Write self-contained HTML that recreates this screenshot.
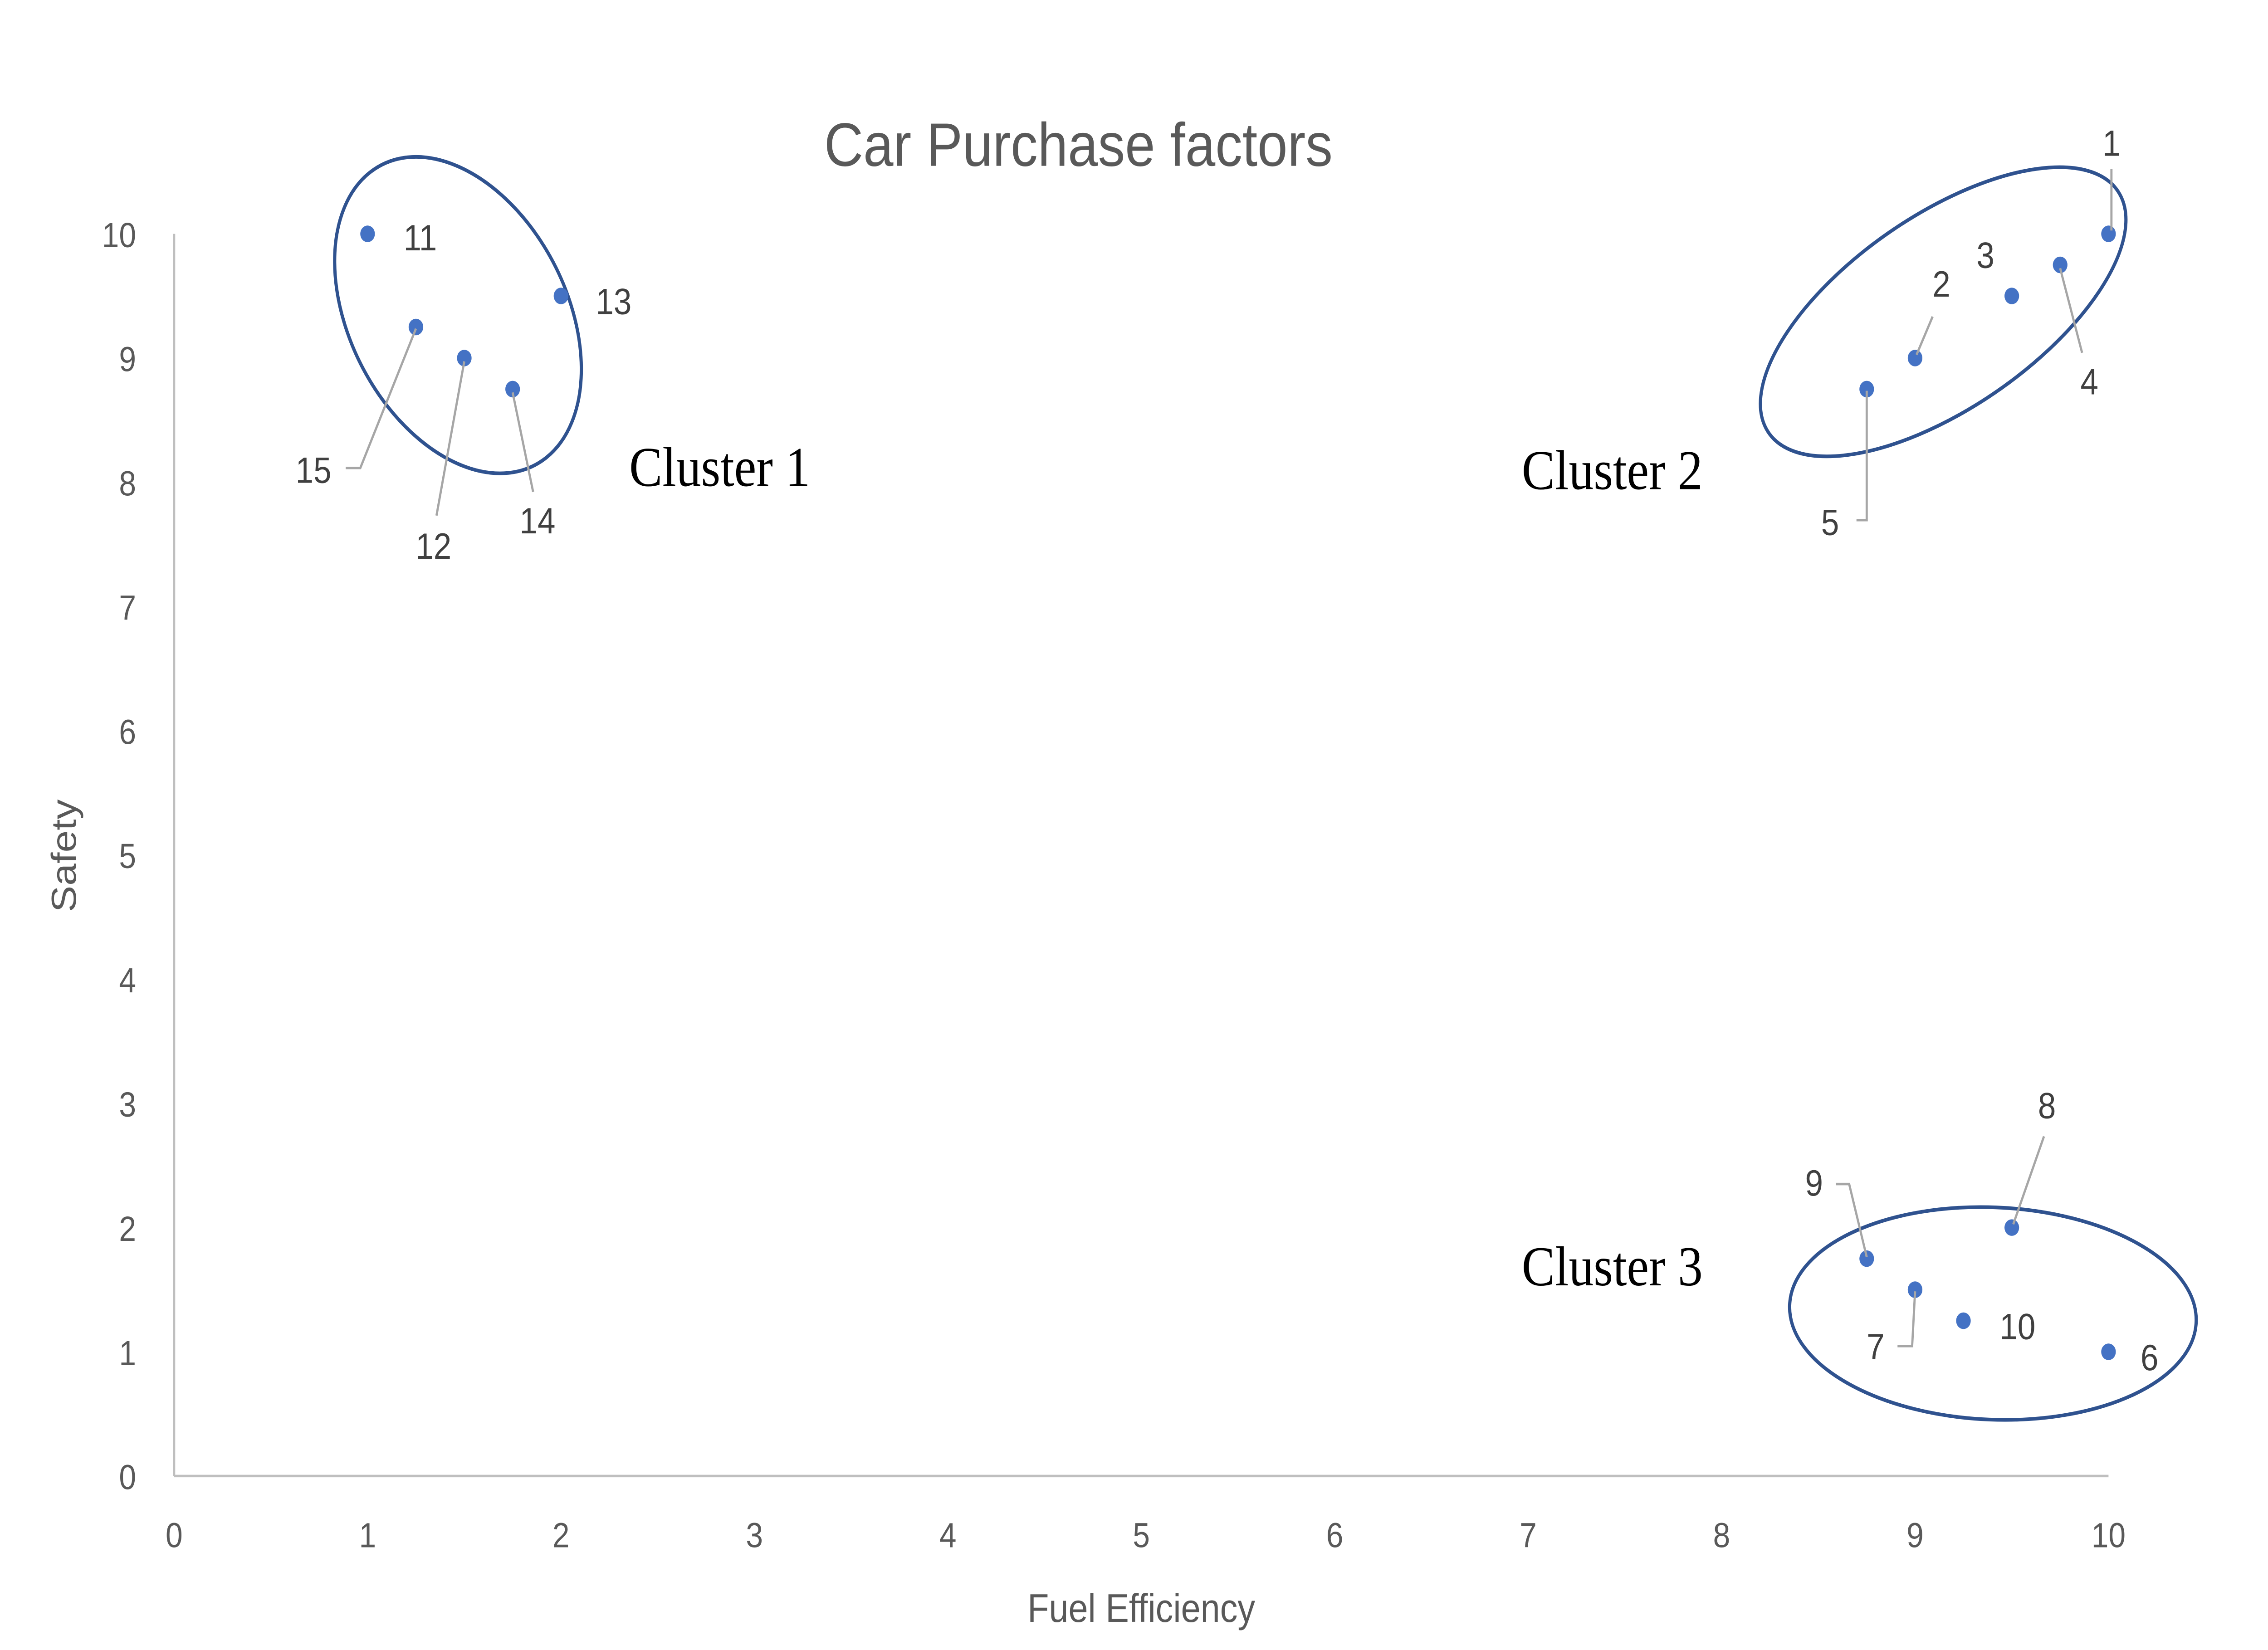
<!DOCTYPE html>
<html><head><meta charset="utf-8"><style>
html,body{margin:0;padding:0;background:#fff;width:100%;height:100%;overflow:hidden;}
svg{display:block;width:100vw;height:100vh;}
text{font-family:"Liberation Sans",sans-serif;}
</style></head><body>
<svg id="chart" viewBox="0 0 1550 994.9" preserveAspectRatio="none" xmlns="http://www.w3.org/2000/svg">
<rect width="1550" height="994.9" fill="#fff"/>
<text x="737" y="100" text-anchor="middle" font-size="37" fill="#595959">Car Purchase factors</text>
<g id="axes"></g>
<g id="ellipses"></g>
<g id="marks"></g>
<text x="780" y="978" text-anchor="middle" font-size="24" fill="#595959">Fuel Efficiency</text>
<text transform="translate(52,516) rotate(-90)" text-anchor="middle" font-size="24" fill="#595959">Safety</text>
<text x="430" y="293" font-size="34" fill="#000" style="font-family:'Liberation Serif',serif">Cluster 1</text>
<text x="1040" y="295" font-size="34" fill="#000" style="font-family:'Liberation Serif',serif">Cluster 2</text>
<text x="1040" y="775" font-size="34" fill="#000" style="font-family:'Liberation Serif',serif">Cluster 3</text>
</svg>
<script>
const xTicks = [0,1,2,3,4,5,6,7,8,9,10];
const yTicks = [0,1,2,3,4,5,6,7,8,9,10];
const pointIds = [1,2,3,4,5,6,7,8,9,10,11,12,13,14,15];
const fuelValues = [10,9,9.5,9.75,8.75,10,9,9.5,8.75,9.25,1,1.5,2,1.75,1.25];
const safetyValues = [10,9,9.5,9.75,8.75,1,1.5,2,1.75,1.25,10,9,9.5,8.75,9.25];

const NS = "http://www.w3.org/2000/svg";
const X0=119, X1=1441, Y0=890, Y1=141;
function sx(v){return X0+(X1-X0)*v/10;}
function sy(v){return Y0-(Y0-Y1)*v/10;}
function mk(tag,attrs,parent){const e=document.createElementNS(NS,tag);for(const k in attrs)e.setAttribute(k,attrs[k]);parent.appendChild(e);return e;}
const axes=document.getElementById('axes');
let l=mk('line',{x1:X0,y1:Y0,x2:X1,y2:Y0,stroke:'#bfbfbf','stroke-width':1.5},axes);


l=mk('line',{x1:X0,y1:Y0,x2:X0,y2:Y1,stroke:'#bfbfbf','stroke-width':1.5},axes);


xTicks.forEach(t=>{const e=mk('text',{x:sx(t),y:Y0+43,'text-anchor':'middle','font-size':21,fill:'#595959'},axes);e.textContent=t;

});
yTicks.forEach(t=>{const e=mk('text',{x:X0-26,y:sy(t)+8,'text-anchor':'end','font-size':21,fill:'#595959'},axes);e.textContent=t;

});

const ell=document.getElementById('ellipses');
[[313,190,105,72,55],[1328,188,140,60,-30],[1362,792,139,64,2]].forEach((c,i)=>{
const e=mk('ellipse',{cx:c[0],cy:c[1],rx:c[2],ry:c[3],transform:`rotate(${c[4]} ${c[0]} ${c[1]})`,fill:'none',stroke:'#2f528f','stroke-width':2.2},ell);

});

// label offsets (dx,dy from point) and leader line offsets — layout, not data
const labelPos={1:[2,-55],2:[18,-45],3:[-18,-25],4:[20,70],5:[-25,80],6:[28,3],7:[-27,34],8:[24,-74],9:[-36,-46],10:[37,3],11:[36,2],12:[-21,113],13:[36,3],14:[17,79],15:[-70,86]};
const leaders={1:[[2,-39],[2,-2]],2:[[12,-25],[1,-2]],4:[[15,53],[0,2]],5:[[-7,79],[0,79],[0,1]],7:[[-12,34],[-2,34],[0,1]],8:[[22,-55],[1,-2]],9:[[-21,-45],[-12,-45],[0,-1]],12:[[-19,95],[0,2]],14:[[14,62],[0,2]],15:[[-48,85],[-38,85],[0,1]]};
const marks=document.getElementById('marks');
pointIds.forEach((id,i)=>{
const px=sx(fuelValues[i]), py=sy(safetyValues[i]);
const c=mk('circle',{cx:px,cy:py,r:5,fill:'#4472c4'},marks);


if(leaders[id]){const p=mk('polyline',{points:leaders[id].map(o=>(px+o[0])+','+(py+o[1])).join(' '),fill:'none',stroke:'#a6a6a6','stroke-width':1.5},marks);

}
const o=labelPos[id];
const t=mk('text',{x:px+o[0],y:py+o[1]+8,'text-anchor':'middle','font-size':22,fill:'#404040'},marks);
t.textContent=id;


});
</script>
</body></html>
